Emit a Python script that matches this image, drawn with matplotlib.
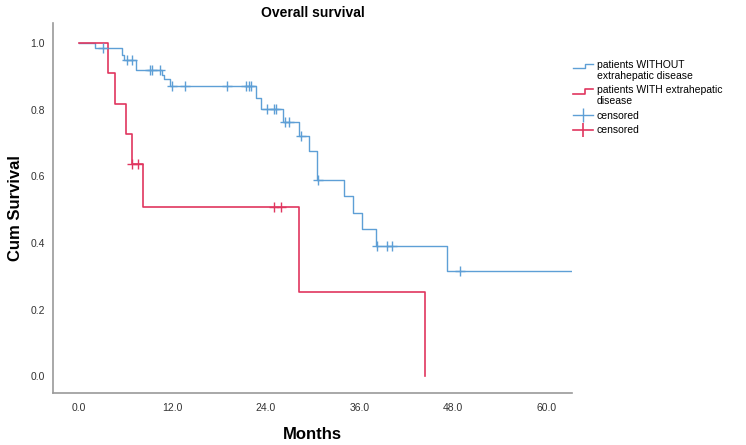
import numpy as np
import matplotlib
matplotlib.use('Agg')
from matplotlib import pyplot as plt
from matplotlib.lines import Line2D
from matplotlib.legend_handler import HandlerBase

# Kaplan-Meier steps (months, cumulative survival)
without_times = [0.0, 2.1, 5.5, 5.8, 7.3, 10.7, 11.0, 11.7, 22.7, 23.4, 26.2,
                 28.3, 29.6, 30.6, 34.0, 35.2, 36.3, 38.1, 47.3]
without_surv = [1.0, 0.984, 0.963, 0.950, 0.918, 0.905, 0.892, 0.870, 0.834,
                0.801, 0.763, 0.721, 0.677, 0.589, 0.541, 0.491, 0.441, 0.391, 0.315]
without_last = 63.3
without_censored = [3.1, 6.2, 6.8, 9.1, 9.4, 10.4, 12.0, 13.6, 19.0, 21.4, 21.8,
                    22.1, 24.1, 25.0, 25.3, 26.4, 27.0, 28.5, 30.7, 38.2, 39.5,
                    40.2, 48.9]

with_times = [0.0, 3.8, 4.7, 6.1, 6.8, 8.2, 28.2, 44.4]
with_surv = [1.0, 0.909, 0.818, 0.727, 0.636, 0.509, 0.254, 0.0]
with_censored = [6.9, 7.6, 25.1, 25.9]

x_ticks = [0, 12, 24, 36, 48, 60]
y_ticks = [0.0, 0.2, 0.4, 0.6, 0.8, 1.0]

labels = ['patients WITHOUT\nextrahepatic disease',
          'patients WITH extrahepatic\ndisease',
          'censored', 'censored']

blue = '#5e9fd6'
red = '#e0365f'

plt.rcParams['font.family'] = ['Liberation Sans', 'DejaVu Sans']


def level_at(times, surv, t):
    idx = np.searchsorted(times, t, side='right') - 1
    return np.array(surv)[idx]


class StepHandler(HandlerBase):
    # step-shaped legend icon, lifted to sit by the first text line
    def create_artists(self, legend, orig_handle, xdescent, ydescent,
                       width, height, fontsize, trans):
        lift = 0.5 * fontsize
        xs = np.array([0, 0.6, 0.6, 1.0]) * width - xdescent
        ys = np.array([0.1, 0.1, 0.7, 0.7]) * height - ydescent + lift
        line = Line2D(xs, ys, color=orig_handle.get_color(),
                      lw=orig_handle.get_linewidth())
        line.set_transform(trans)
        return [line]


fig = plt.figure(figsize=(7.46, 4.45), dpi=100)
ax = fig.add_axes([0.071, 0.117, 0.696, 0.831])

bx = without_times + [without_last]
by = without_surv + [without_surv[-1]]
l1, = ax.step(bx, by, where='post', color=blue, lw=1.0)
l2, = ax.step(with_times, with_surv, where='post', color=red, lw=1.2)

ax.plot(without_censored,
        level_at(without_times, without_surv, without_censored),
        ls='none', marker='+', ms=7, mew=1.0, color=blue)
ax.plot(with_censored,
        level_at(with_times, with_surv, with_censored),
        ls='none', marker='+', ms=7, mew=1.0, color=red)

ax.set_xlim(-3.3, 63.3)
ax.set_ylim(-0.05, 1.06)
ax.set_xticks(x_ticks)
ax.set_xticklabels(['%.1f' % v for v in x_ticks])
ax.set_yticks(y_ticks)
ax.set_yticklabels(['%.1f' % v for v in y_ticks])
ax.tick_params(length=0, labelsize=7.5, labelcolor='#333333')
ax.tick_params(axis='x', pad=7)
ax.tick_params(axis='y', pad=6)

for side in ['top', 'right']:
    ax.spines[side].set_visible(False)
for side in ['left', 'bottom']:
    ax.spines[side].set_color('#9a9a9a')
    ax.spines[side].set_linewidth(1.2)

ax.set_title('Overall survival', fontsize=10, fontweight='bold', pad=4.5)
ax.set_xlabel('Months', fontsize=12, fontweight='bold', labelpad=10)
ax.set_ylabel('Cum Survival', fontsize=12, fontweight='bold', labelpad=5)

# legend proxies for the censor marks: short line with a cross tick
c1 = Line2D([], [], color=blue, lw=1.0, marker='|', ms=10, mew=1.0)
c2 = Line2D([], [], color=red, lw=1.2, marker='|', ms=10, mew=1.2)

leg = fig.legend([l1, l2, c1, c2], labels, loc='upper left',
                 bbox_to_anchor=(0.762, 0.875), frameon=False, fontsize=7.5,
                 handler_map={l1: StepHandler(), l2: StepHandler()},
                 handlelength=2.0, handletextpad=0.3, labelspacing=0.45,
                 borderaxespad=0)
for t in leg.get_texts():
    t.set_linespacing(1.1)

fig.savefig('out.png', dpi=100)
